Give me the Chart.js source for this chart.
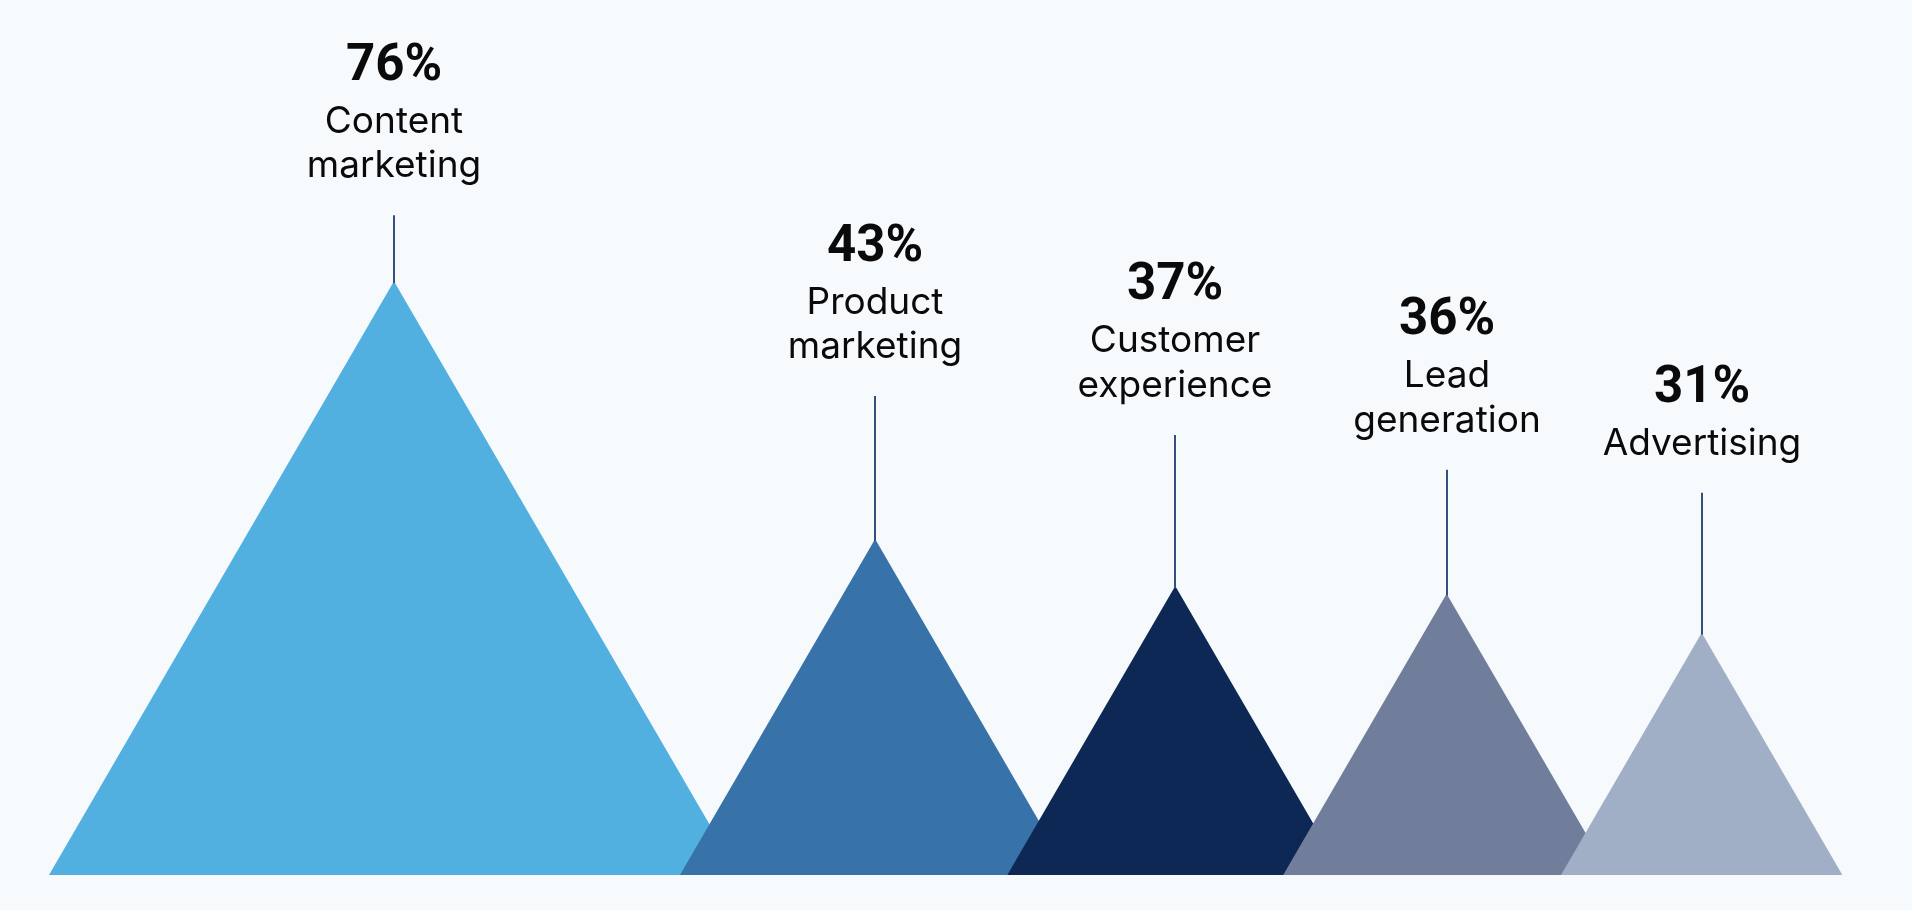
<!DOCTYPE html>
<html>
<head>
<meta charset="utf-8">
<script src="https://cdn.jsdelivr.net/npm/chart.js@4.4.1/dist/chart.umd.min.js"></script>
<style>
  html, body { margin: 0; padding: 0; background: #f6fafc; }
  #wrap { width: 1912px; height: 910px; }
</style>
</head>
<body>
<div id="wrap"><canvas id="chart" width="1912" height="910"></canvas></div>
<script>
// data
const categories = [["Content", "marketing"], ["Product", "marketing"], ["Customer", "experience"], ["Lead", "generation"], ["Advertising"]];
const values = [76, 43, 37, 36, 31];
const valueLabels = ["76%", "43%", "37%", "36%", "31%"];

// styles / layout
const colors = ["#51b0e0", "#3773a8", "#0d2855", "#717e9b", "#a1afc6"];
const Y_MAX = 112;
const PLOT_H = 875;            // plot bottom in px (layout padding below)
const START_X = 49;            // left corner of the first peak
const SLOPE = 0.581;           // half base / height (about equilateral)
const overlaps = [59, 63, 60, 49];
const stemLen = [66, 143, 151, 124, 140];
const NAME_FONT = "400 37px Inter, 'Noto Sans', sans-serif";
const VALUE_FONT = "700 51px Roboto, 'Noto Sans', sans-serif";

const halfW = v => v * (PLOT_H / Y_MAX) * SLOPE;

// place peaks one after the other, each one overlapping the previous
const centers = [];
values.forEach((v, i) => {
    if (i === 0) centers.push(START_X + halfW(v));
    else centers.push(centers[i - 1] + halfW(values[i - 1]) + halfW(v) - overlaps[i - 1]);
});

const datasets = values.map((v, i) => ({
    label: categories[i].join(" "),
    data: [
        { x: centers[i] - halfW(v), y: 0 },
        { x: centers[i], y: v },
        { x: centers[i] + halfW(v), y: 0 }
    ],
    backgroundColor: colors[i],
    borderWidth: 0,
    pointRadius: 0,
    tension: 0,
    fill: 'origin',
    order: values.length - i
}));

// stems + labels above each peak
const peakLabels = {
    id: 'peakLabels',
    afterDatasetsDraw(chart) {
        const { ctx, scales } = chart;
        ctx.save();
        values.forEach((v, i) => {
            const x = Math.round(scales.x.getPixelForValue(centers[i]));
            const top = scales.y.getPixelForValue(v);
            const stemTop = top - stemLen[i];
            ctx.strokeStyle = "#34507f";
            ctx.lineWidth = 2;
            ctx.beginPath();
            ctx.moveTo(x, top + 2);
            ctx.lineTo(x, stemTop);
            ctx.stroke();

            const lines = categories[i];
            ctx.fillStyle = "#0a0a0a";
            ctx.textAlign = "center";
            ctx.textBaseline = "alphabetic";
            ctx.font = NAME_FONT;
            const last = stemTop - 38;
            lines.forEach((t, j) => {
                ctx.fillText(t, x, last - (lines.length - 1 - j) * 44.5);
            });
            ctx.font = VALUE_FONT;
            ctx.fillText(valueLabels[i], x, last - (lines.length - 1) * 44.5 - 53);
        });
        ctx.restore();
    }
};

new Chart(document.getElementById('chart'), {
    type: 'line',
    data: { datasets: datasets },
    options: {
        responsive: false,
        animation: false,
        layout: { padding: { left: 0, right: 0, top: 0, bottom: 910 - PLOT_H } },
        scales: {
            x: { type: 'linear', min: 0, max: 1912, display: false },
            y: { min: 0, max: Y_MAX, display: false }
        },
        plugins: {
            legend: { display: false },
            tooltip: { enabled: false }
        }
    },
    plugins: [peakLabels]
});
</script>
</body>
</html>
